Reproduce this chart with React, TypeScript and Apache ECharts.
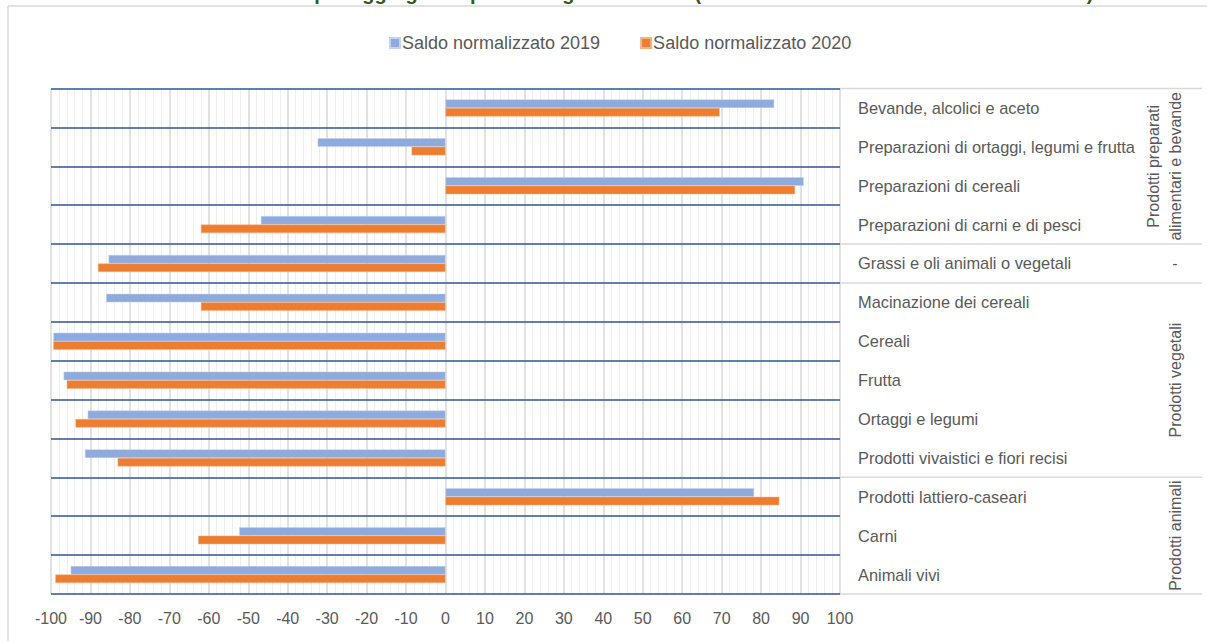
import React, { useEffect, useRef } from "react";
import * as echarts from "echarts";

const categories = [
  "Bevande, alcolici e aceto",
  "Preparazioni di ortaggi, legumi e frutta",
  "Preparazioni di cereali",
  "Preparazioni di carni e di pesci",
  "Grassi e oli animali o vegetali",
  "Macinazione dei cereali",
  "Cereali",
  "Frutta",
  "Ortaggi e legumi",
  "Prodotti vivaistici e fiori recisi",
  "Prodotti lattiero-caseari",
  "Carni",
  "Animali vivi",
];

const saldo2019 = [83.3, -32.4, 90.8, -46.8, -85.4, -86.0, -99.4, -96.8, -90.7, -91.4, 78.2, -52.3, -95.0];
const saldo2020 = [69.5, -8.6, 88.6, -62.0, -88.1, -62.0, -99.4, -96.0, -93.8, -83.1, 84.6, -62.7, -98.9];

const groups = [
  { label: "Prodotti preparati\nalimentari e bevande", start: 0, end: 3 },
  { label: "-", start: 4, end: 4 },
  { label: "Prodotti vegetali", start: 5, end: 9 },
  { label: "Prodotti animali", start: 10, end: 12 },
];

const seriesNames = ["Saldo normalizzato 2019", "Saldo normalizzato 2020"];
const titleText =
  "Saldo normalizzato per aggregati di prodotti agroalimentari (saldi normalizzati e % calcolati sui valori)";

const FONT = '"Liberation Sans", Arial, sans-serif';
const TXT = "#595959";

export default function App() {
  const ref = useRef<HTMLDivElement>(null);

  useEffect(() => {
    if (!ref.current) return;
    const chart = echarts.init(ref.current, null, { renderer: "svg" });
    const option: any = {
      animation: false,
      backgroundColor: "#ffffff",
      textStyle: { fontFamily: FONT },
      legend: {
        data: seriesNames,
        left: 384,
        top: 29,
        icon: "rect",
        itemWidth: 10,
        itemHeight: 10,
        itemGap: 40,
        textStyle: { fontSize: 18, color: TXT, fontFamily: FONT, padding: [0, 0, 0, -3] },
      },
      grid: { left: 51, right: 367, top: 88.5, bottom: 47, containLabel: false },
      xAxis: {
        type: "value",
        min: -100,
        max: 100,
        interval: 10,
        z: 0,
        axisLine: { show: false },
        axisTick: { show: false },
        axisLabel: { color: TXT, fontSize: 16, fontFamily: FONT, margin: 16 },
        splitLine: { show: true, lineStyle: { color: "#d9d9d9", width: 1.5, type: "solid" } },
        minorTick: { show: false, splitNumber: 5 },
        minorSplitLine: { show: true, lineStyle: { color: "#efefef", width: 1, type: "solid" } },
      },
      yAxis: {
        type: "category",
        data: categories,
        inverse: true,
        position: "right",
        z: 1,
        axisLine: { show: false },
        axisTick: { show: false },
        axisLabel: { color: TXT, fontSize: 16.4, fontFamily: FONT, margin: 18, align: "left" },
        splitLine: { show: true, lineStyle: { color: "#2F5597", width: 1.5, type: "solid" } },
      },
      series: [
        {
          name: seriesNames[0],
          type: "bar",
          data: saldo2019,
          barWidth: 8.5,
          barGap: "0%",
          z: 3,
          itemStyle: { color: "#8FAADC", borderColor: "#c5d3ee", borderWidth: 0.5 },
        },
        {
          name: seriesNames[1],
          type: "bar",
          data: saldo2020,
          barWidth: 8.5,
          barGap: "0%",
          z: 3,
          itemStyle: { color: "#ED7D31", borderColor: "#f4b183", borderWidth: 0.5 },
        },
      ],
    };
    chart.setOption(option);

    const c0 = chart.convertToPixel({ yAxisIndex: 0 }, 0) as number;
    const c1 = chart.convertToPixel({ yAxisIndex: 0 }, 1) as number;
    const band = c1 - c0;
    const xRight = chart.convertToPixel({ xAxisIndex: 0 }, 100) as number;
    const yTop = c0 - band / 2;

    const graphic: any[] = [
      {
        type: "text",
        x: 610,
        y: 2.5,
        style: {
          text: titleText,
          fill: "#375623",
          font: `bold 20px ${FONT}`,
          textAlign: "center",
          textVerticalAlign: "bottom",
        },
      },
      { type: "line", shape: { x1: 8, y1: 6, x2: 1207, y2: 6 }, style: { stroke: "#d9d9d9", lineWidth: 1.5 } },
      { type: "line", shape: { x1: 8, y1: 6, x2: 8, y2: 641 }, style: { stroke: "#d9d9d9", lineWidth: 1.5 } },
      {
        type: "line",
        shape: { x1: xRight, y1: yTop, x2: 1202, y2: yTop },
        style: { stroke: "#d9d9d9", lineWidth: 1.5 },
      },
    ];
    groups.forEach((g) => {
      const yEnd = (chart.convertToPixel({ yAxisIndex: 0 }, g.end) as number) + band / 2;
      const yStart = (chart.convertToPixel({ yAxisIndex: 0 }, g.start) as number) - band / 2;
      graphic.push({
        type: "line",
        shape: { x1: xRight, y1: yEnd, x2: 1202, y2: yEnd },
        style: { stroke: "#d9d9d9", lineWidth: 1.5 },
      });
      const twoLines = g.label.indexOf("\n") >= 0;
      graphic.push({
        type: "text",
        x: twoLines ? 1164 : 1175,
        y: (yStart + yEnd) / 2,
        rotation: g.label === "-" ? 0 : Math.PI / 2,
        style: {
          text: g.label,
          fill: TXT,
          font: `16px ${FONT}`,
          textAlign: "center",
          textVerticalAlign: "middle",
          lineHeight: 22,
        },
      });
    });
    chart.setOption({ graphic });

    return () => chart.dispose();
  }, []);

  return (
    <div
      ref={ref}
      style={{ position: "absolute", left: 0, top: 0, width: 1207, height: 641 }}
    />
  );
}
